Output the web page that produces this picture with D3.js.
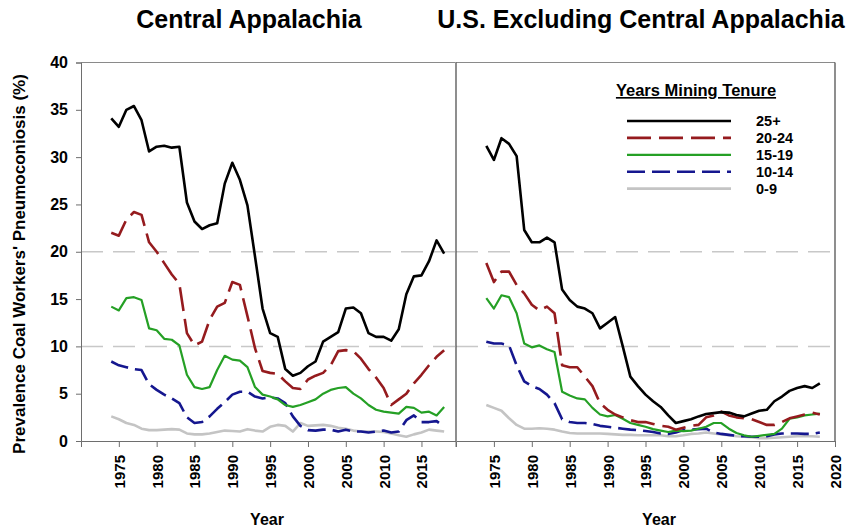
<!DOCTYPE html>
<html>
<head>
<meta charset="utf-8">
<script src="https://cdn.jsdelivr.net/npm/d3@7"></script>
<style>
  body { margin: 0; background: #fff; }
  svg { font-family: "Liberation Sans", Arial, sans-serif; }
</style>
</head>
<body>
<div id="chart"></div>
<script>
// survey years
var years = [1974, 1975, 1976, 1977, 1978, 1979, 1980, 1981, 1982, 1983,
             1984, 1985, 1986, 1987, 1988, 1989, 1990, 1991, 1992, 1993,
             1994, 1995, 1996, 1997, 1998, 1999, 2000, 2001, 2002, 2003,
             2004, 2005, 2006, 2007, 2008, 2009, 2010, 2011, 2012, 2013,
             2014, 2015, 2016, 2017, 2018];

var tenureLabels = ["25+", "20-24", "15-19", "10-14", "0-9"];

// Central Appalachia
var capT25 = [34.1, 33.2, 35.0, 35.4, 33.9, 30.6, 31.1, 31.2, 31.0, 31.1,
              25.2, 23.2, 22.4, 22.8, 23.0, 27.2, 29.4, 27.6, 24.9, 19.5,
              14.0, 11.4, 11.0, 7.6, 6.9, 7.2, 7.9, 8.4, 10.5, 11.0,
              11.5, 14.0, 14.1, 13.5, 11.4, 11.0, 11.0, 10.6, 11.8, 15.5,
              17.4, 17.5, 19.0, 21.2, 19.8];
var capT20 = [22.0, 21.7, 23.4, 24.2, 23.9, 21.0, 20.0, 18.8, 17.6, 16.6,
              11.4, 10.1, 10.5, 12.8, 14.2, 14.6, 16.8, 16.5, 13.2, 9.8,
              7.4, 7.2, 7.1, 6.3, 5.6, 5.5, 6.5, 6.9, 7.2, 8.0,
              9.5, 9.6, 9.5, 8.7, 7.6, 6.7, 5.6, 3.8, 4.4, 5.0,
              6.1, 7.0, 8.0, 8.9, 9.6];
var capT15 = [14.2, 13.8, 15.1, 15.2, 14.9, 11.9, 11.7, 10.8, 10.7, 10.1,
              7.0, 5.7, 5.5, 5.7, 7.5, 9.0, 8.6, 8.5, 7.8, 5.7,
              4.9, 4.7, 4.4, 3.8, 3.6, 3.8, 4.1, 4.4, 5.0, 5.4,
              5.6, 5.7, 5.0, 4.5, 3.8, 3.3, 3.1, 3.0, 2.9, 3.6,
              3.5, 3.0, 3.1, 2.7, 3.6];
var capT10 = [8.4, 8.0, 7.8, 7.6, 7.5, 6.0, 5.4, 4.9, 4.5, 4.0,
              2.5, 1.9, 2.0, 2.6, 3.4, 4.1, 4.9, 5.2, 5.2, 4.7,
              4.5, 4.6, 4.5, 4.0, 2.6, 1.6, 1.15, 1.1, 1.2, 1.2,
              1.0, 1.2, 1.0, 1.0, 0.9, 1.0, 1.1, 0.9, 1.0, 2.2,
              2.7, 2.0, 2.0, 2.1, 1.5];
var capT0 = [2.6, 2.3, 1.9, 1.7, 1.3, 1.15, 1.15, 1.2, 1.25, 1.2,
             0.8, 0.7, 0.7, 0.8, 0.95, 1.1, 1.05, 1.0, 1.25, 1.1,
             1.0, 1.5, 1.7, 1.6, 1.0, 1.9, 1.6, 1.65, 1.7, 1.6,
             1.4, 1.3, 1.1, 1.0, 1.0, 1.0, 0.95, 0.8, 0.6, 0.45,
             0.7, 0.9, 1.2, 1.1, 1.0];

// U.S. excluding Central Appalachia
var usT25 = [31.2, 29.7, 32.0, 31.4, 30.1, 22.3, 21.0, 21.0, 21.5, 21.0,
             16.0, 14.9, 14.2, 14.0, 13.5, 11.9, 12.5, 13.1, 10.0, 6.8,
             5.8, 4.9, 4.2, 3.6, 2.7, 1.9, 2.1, 2.3, 2.6, 2.85,
             2.95, 3.05, 3.0, 2.75, 2.6, 2.9, 3.2, 3.3, 4.2, 4.7,
             5.3, 5.6, 5.8, 5.6, 6.1];
var usT20 = [18.8, 16.8, 17.9, 17.9, 16.5, 15.6, 14.4, 13.8, 14.2, 13.5,
             8.0, 7.8, 7.8, 6.8, 5.8, 4.0, 3.3, 2.8, 2.5, 2.2,
             2.0, 2.0, 1.8, 1.6, 1.5, 1.2, 1.4, 1.6, 1.7, 2.5,
             2.7, 3.1, 2.7, 2.5, 2.4, 2.3, 2.0, 1.7, 1.7, 2.0,
             2.4, 2.6, 2.8, 3.0, 2.8];
var usT15 = [15.1, 14.0, 15.4, 15.2, 13.5, 10.3, 9.9, 10.1, 9.7, 9.4,
             5.2, 4.8, 4.5, 4.4, 3.5, 2.8, 2.6, 2.75, 2.35, 1.9,
             1.7, 1.5, 1.25, 1.1, 0.95, 1.1, 1.05, 1.1, 1.3, 1.5,
             1.9, 1.9, 1.3, 0.85, 0.6, 0.45, 0.55, 0.65, 0.75, 1.3,
             2.35, 2.5, 2.7, 2.8, 2.9];
var usT10 = [10.5, 10.3, 10.3, 10.1, 8.0, 6.3, 5.8, 5.5, 4.9, 4.0,
             2.3, 2.0, 1.9, 1.9, 1.8, 1.6, 1.5, 1.4, 1.3, 1.2,
             1.15, 1.05, 0.95, 0.8, 0.75, 0.9, 1.15, 1.2, 1.25, 1.3,
             0.9, 0.75, 0.65, 0.55, 0.5, 0.45, 0.45, 0.5, 0.7, 0.8,
             0.8, 0.8, 0.75, 0.75, 0.9];
var usT0 = [3.8, 3.5, 3.2, 2.4, 1.7, 1.3, 1.3, 1.35, 1.3, 1.2,
            1.0, 0.85, 0.8, 0.8, 0.8, 0.8, 0.75, 0.7, 0.65, 0.65,
            0.6, 0.6, 0.6, 0.6, 0.5, 0.5, 0.6, 0.75, 0.8, 0.9,
            0.8, 0.7, 0.6, 0.5, 0.45, 0.4, 0.3, 0.3, 0.35, 0.4,
            0.45, 0.5, 0.5, 0.5, 0.45];

var yTicks = [0, 5, 10, 15, 20, 25, 30, 35, 40];
var xTicksLeft = [1975, 1980, 1985, 1990, 1995, 2000, 2005, 2010, 2015];
var xTicksRight = [1975, 1980, 1985, 1990, 1995, 2000, 2005, 2010, 2015, 2020];

// line styles in legend order: 25+, 20-24, 15-19, 10-14, 0-9
var styles = [
  { color: "#000000", width: 2.6, dash: null },
  { color: "#951b1e", width: 2.6, dash: "24,8" },
  { color: "#25a025", width: 2.2, dash: null },
  { color: "#15178f", width: 2.6, dash: "18,7" },
  { color: "#c4c4c4", width: 2.6, dash: null }
];

var width = 847, height = 529;
var plotTop = 62.5, plotBottom = 441;

var svg = d3.select("#chart").append("svg")
    .attr("width", width)
    .attr("height", height);

var y = d3.scaleLinear().domain([0, 40]).range([plotBottom, plotTop]);

var panels = [
  { title: "Central Appalachia", titleX: 249, yearX: 267,
    x: d3.scaleLinear().domain([1970, 2019.5]).range([81, 455.5]),
    ticks: xTicksLeft, series: [capT25, capT20, capT15, capT10, capT0] },
  { title: "U.S. Excluding Central Appalachia", titleX: 641, yearX: 659,
    x: d3.scaleLinear().domain([1970, 2020]).range([456, 835]),
    ticks: xTicksRight, series: [usT25, usT20, usT15, usT10, usT0] }
];

var axisColor = "#6e6e6e";

panels.forEach(function(p, pi) {
  var x0 = p.x.range()[0], x1 = p.x.range()[1];
  var g = svg.append("g");

  // dashed reference lines at 10 and 20
  g.selectAll(".ref").data([10, 20]).enter().append("line")
      .attr("x1", x0).attr("x2", x1)
      .attr("y1", function(d) { return y(d); })
      .attr("y2", function(d) { return y(d); })
      .attr("stroke", "#c8c8c8")
      .attr("stroke-width", 1.5)
      .attr("stroke-dasharray", "22,10");

  var clipId = "clip" + pi;
  svg.append("clipPath").attr("id", clipId).append("rect")
      .attr("x", x0).attr("y", plotTop).attr("width", x1 - x0).attr("height", plotBottom - plotTop);

  var line = d3.line()
      .x(function(d, i) { return p.x(years[i]); })
      .y(function(d) { return y(d); });

  // draw lowest tenure first so 25+ lies on top
  for (var k = p.series.length - 1; k >= 0; k--) {
    g.append("path")
        .attr("clip-path", "url(#" + clipId + ")")
        .attr("d", line(p.series[k]))
        .attr("fill", "none")
        .attr("stroke", styles[k].color)
        .attr("stroke-width", styles[k].width)
        .attr("stroke-linejoin", "round")
        .attr("stroke-dasharray", styles[k].dash);
  }

  // x axis
  var xAxis = d3.axisBottom(p.x).tickValues(p.ticks).tickSize(6).tickFormat(d3.format("d"));
  var ax = svg.append("g").attr("transform", "translate(0," + plotBottom + ")").call(xAxis);
  ax.select(".domain").attr("stroke", axisColor);
  ax.selectAll(".tick line").attr("stroke", axisColor);
  ax.selectAll(".tick text")
      .attr("fill", "#000")
      .attr("font-size", 15)
      .attr("font-weight", "bold")
      .attr("text-anchor", "end")
      .attr("transform", "translate(0,14) rotate(-90)")
      .attr("x", 0).attr("y", 0).attr("dy", "0.36em");

  // top border
  svg.append("line")
      .attr("x1", x0).attr("x2", x1).attr("y1", plotTop).attr("y2", plotTop)
      .attr("stroke", "#8a8a8a").attr("stroke-width", 1);

  // panel title
  svg.append("text")
      .attr("x", p.titleX).attr("y", 28)
      .attr("text-anchor", "middle")
      .attr("font-size", 25).attr("font-weight", "bold")
      .text(p.title);

  svg.append("text")
      .attr("x", p.yearX).attr("y", 525)
      .attr("text-anchor", "middle")
      .attr("font-size", 16).attr("font-weight", "bold")
      .text("Year");
});

// y axis on the left panel
var yAxis = d3.axisLeft(y).tickValues(yTicks).tickSize(5);
var ay = svg.append("g").attr("transform", "translate(81,0)").call(yAxis);
ay.select(".domain").attr("stroke", axisColor);
ay.selectAll(".tick line").attr("stroke", axisColor);
ay.selectAll(".tick text")
    .attr("fill", "#000")
    .attr("font-size", 16)
    .attr("font-weight", "bold")
    .attr("x", -13);

// divider and right border
svg.append("line").attr("x1", 456).attr("x2", 456).attr("y1", plotTop).attr("y2", plotBottom)
    .attr("stroke", "#444").attr("stroke-width", 1.2);
svg.append("line").attr("x1", 835).attr("x2", 835).attr("y1", plotTop).attr("y2", plotBottom)
    .attr("stroke", "#444").attr("stroke-width", 1.2);

svg.append("text")
    .attr("transform", "translate(25,264) rotate(-90)")
    .attr("text-anchor", "middle")
    .attr("font-size", 17).attr("font-weight", "bold")
    .text("Prevalence Coal Workers' Pneumoconiosis (%)");

// legend
var legend = svg.append("g");
legend.append("text")
    .attr("x", 696).attr("y", 96)
    .attr("text-anchor", "middle")
    .attr("font-size", 16.5).attr("font-weight", "bold")
    .attr("text-decoration", "underline")
    .text("Years Mining Tenure");

var rows = legend.selectAll(".row").data(tenureLabels).enter().append("g")
    .attr("transform", function(d, i) { return "translate(0," + (121 + i * 16.9) + ")"; });
rows.append("line")
    .attr("x1", 627).attr("x2", 731)
    .attr("stroke", function(d, i) { return styles[i].color; })
    .attr("stroke-width", function(d, i) { return styles[i].width; })
    .attr("stroke-dasharray", function(d, i) { return styles[i].dash; });
rows.append("text")
    .attr("x", 756).attr("dy", "0.36em")
    .attr("font-size", 14.5).attr("font-weight", "bold")
    .text(function(d) { return d; });
</script>
</body>
</html>
